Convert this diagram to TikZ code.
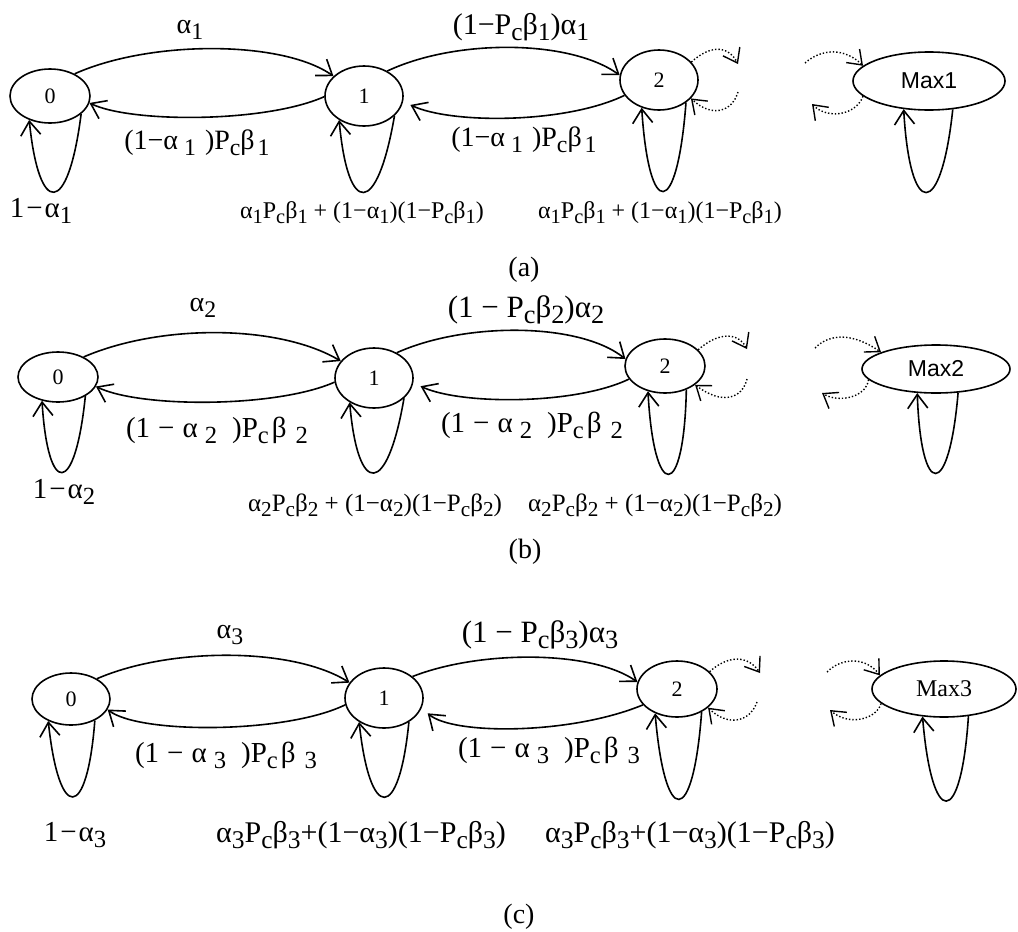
\documentclass[tikz,border=0pt]{standalone}
\usepackage{fontspec}
\setmainfont{Liberation Serif}
\newfontfamily\arialf{Liberation Sans}
\usepackage{graphicx}
\usetikzlibrary{shapes.geometric,arrows.meta}
\newcommand\ls[1]{\raisebox{-0.45ex}{\scalebox{0.85}{#1}}}
\newcommand\fs[1]{\fontsize{#1}{#1}\selectfont}
\newcommand\hs[1]{\hspace{#1pt}}
\tikzset{
 st/.style={draw, ellipse, line width=1.6pt, inner sep=0pt, font=\fs{22}},
 arr/.style={line width=1.6pt, -{Straight Barb[length=14pt,width=20pt,line width=1.6pt]}},
 dots/.style={dotted, line width=1.4pt, -{Straight Barb[length=13pt,width=19pt,line width=1.4pt]}},
 lab/.style={inner sep=0pt, font=\fs{25}},
 capt/.style={inner sep=0pt, font=\fs{28}},
}
\begin{document}
\begin{tikzpicture}[x=1pt,y=-1pt]
\useasboundingbox (0,0) rectangle (1018,932);
% ---------------- row (a)
\node[st,minimum width=80pt,minimum height=54pt] (a0) at (50,96) {0};
\node[st,minimum width=78pt,minimum height=60pt] (a1) at (364,96) {1};
\node[st,minimum width=78pt,minimum height=60pt] (a2) at (659,80) {2};
\node[st,minimum width=152pt,minimum height=58pt,font=\arialf\fs{23}] (am) at (929,81) {Max1};
\draw[arr] (a0.42) .. controls (150,40) and (282,40) .. (a1.147);
\draw[arr] (a1.181) .. controls (265,123) and (131,123) .. (a0.-10);
\draw[arr] (a1.47) .. controls (455,39) and (569,39) .. (a2.173);
\draw[arr,shorten >=8pt] (a2.204) .. controls (565,124) and (451,124) .. (a1.-8);
\draw[arr] (a0.-30) .. controls (68,217) and (39,217) .. (a0.229);
\draw[arr] (a1.-33) .. controls (377,217) and (348,217) .. (a1.224);
\draw[arr] (a2.-40) .. controls (677,220) and (649,220) .. (a2.238);
\draw[arr] (am.-50) .. controls (941,220) and (910,220) .. (am.228);
\coordinate (ao) at (738,64); \coordinate (ai) at (738,92);
\coordinate (ami) at (805,63); \coordinate (amo) at (812,104);
\draw[dots] (a2.29) .. controls (710,45) and (728,45) .. (ao);
\draw[dots] (ai) .. controls (732,112) and (712,118) .. (a2.-30);
\draw[dots] (ami) .. controls (822,48) and (845,48) .. (am.167);
\draw[dots] (am.193) .. controls (856,115) and (828,120) .. (amo);
\node[lab,font=\fs{28}] (la1) at (190,30) {α\ls{1}};
\node[lab,font=\fs{28}] (lb1) at (197,143) {(1−α\hs{6}\ls{1}\hs{9})P\ls{c}β\hs{3}\ls{1}};
\node[lab,font=\fs{30}] (lc1) at (521,27) {(1−P\ls{c}β\ls{1})α\ls{1}};
\node[lab,font=\fs{28}] (ld1) at (524,140) {(1−α\hs{6}\ls{1}\hs{9})P\ls{c}β\hs{3}\ls{1}};
\node[lab,font=\fs{29}] (le1) at (41,211) {1\hs{2}−\hs{2}α\ls{1}};
\node[lab,font=\fs{24}] (lf1) at (362,213) {α\ls{1}P\ls{c}β\ls{1} + (1−α\ls{1})(1−P\ls{c}β\ls{1})};
\node[lab,font=\fs{24}] (lg1) at (660,213) {α\ls{1}P\ls{c}β\ls{1} + (1−α\ls{1})(1−P\ls{c}β\ls{1})};
\node[capt] (cap1) at (524,270) {(a)};
% ---------------- row (b)
\node[st,minimum width=80pt,minimum height=50pt] (b0) at (58,377) {0};
\node[st,minimum width=78pt,minimum height=60pt] (b1) at (374,378) {1};
\node[st,minimum width=80pt,minimum height=54pt] (b2) at (665,366) {2};
\node[st,minimum width=148pt,minimum height=48pt,font=\arialf\fs{23}] (bm) at (936,369) {Max2};
\draw[arr] (b0.38) .. controls (160,324) and (278,324) .. (b1.153);
\draw[arr] (b1.186) .. controls (276,408) and (140,408) .. (b0.-14);
\draw[arr] (b1.48) .. controls (465,322) and (579,322) .. (b2.170);
\draw[arr,shorten >=8pt] (b2.200) .. controls (575,405) and (461,405) .. (b1.-7);
\draw[arr] (b0.-35) .. controls (75,497) and (48,497) .. (b0.236);
\draw[arr] (b1.-34) .. controls (387,497) and (358,497) .. (b1.225);
\draw[arr] (b2.-48) .. controls (684,502) and (654,502) .. (b2.236);
\draw[arr] (bm.-47) .. controls (949,500) and (921,500) .. (bm.232);
\coordinate (bo) at (747,349); \coordinate (bi) at (747,379);
\coordinate (bmi) at (815,348); \coordinate (bmo) at (822,393);
\draw[dots] (b2.26) .. controls (718,332) and (738,332) .. (bo);
\draw[dots] (bi) .. controls (742,399) and (722,405) .. (b2.-32);
\draw[dots] (bmi) .. controls (830,333) and (853,333) .. (bm.163);
\draw[dots] (bm.189) .. controls (866,398) and (838,403) .. (bmo);
\node[lab,font=\fs{28}] (la2) at (203,308) {α\ls{2}};
\node[lab,font=\fs{29}] (lb2) at (217,430) {(1\hs{8}−\hs{8}α\hs{7}\ls{2}\hs{15})P\ls{c}\hs{3}β\hs{9}\ls{2}};
\node[lab,font=\fs{31}] (lc2) at (526,310) {(1 − P\ls{c}β\ls{2})α\ls{2}};
\node[lab,font=\fs{29}] (ld2) at (532,425) {(1\hs{8}−\hs{8}α\hs{7}\ls{2}\hs{15})P\ls{c}\hs{3}β\hs{9}\ls{2}};
\node[lab,font=\fs{29}] (le2) at (64,492) {1\hs{2}−\hs{2}α\ls{2}};
\node[lab] (lf2) at (375,505) {α\ls{2}P\ls{c}β\ls{2} + (1−α\ls{2})(1−P\ls{c}β\ls{2})};
\node[lab] (lg2) at (655,505) {α\ls{2}P\ls{c}β\ls{2} + (1−α\ls{2})(1−P\ls{c}β\ls{2})};
\node[capt] (cap2) at (525,552) {(b)};
% ---------------- row (c)
\node[st,minimum width=78pt,minimum height=52pt] (c0) at (71,699) {0};
\node[st,minimum width=78pt,minimum height=60pt] (c1) at (384,698) {1};
\node[st,minimum width=80pt,minimum height=56pt] (c2) at (677,689) {2};
\node[st,minimum width=144pt,minimum height=56pt,font=\fs{24}] (cm) at (944,689) {Max3};
\draw[arr] (c0.38) .. controls (170,647) and (293,647) .. (c1.156);
\draw[arr] (c1.190) .. controls (285,734) and (139,734) .. (c0.-16);
\draw[arr] (c1.37) .. controls (480,650) and (592,650) .. (c2.170);
\draw[arr,shorten >=8pt] (c2.205) .. controls (570,735) and (453,735) .. (c1.-15);
\draw[arr] (c0.-42) .. controls (87,822) and (59,822) .. (c0.224);
\draw[arr] (c1.-44) .. controls (399,822) and (370,822) .. (c1.224);
\draw[arr] (c2.-43) .. controls (693,828) and (665,828) .. (c2.228);
\draw[arr] (cm.-48) .. controls (961,829) and (932,829) .. (cm.232);
\coordinate (co) at (760,673); \coordinate (ci) at (757,702);
\coordinate (cmi) at (827,672); \coordinate (cmo) at (830,710);
\draw[dots] (c2.28) .. controls (728,655) and (748,655) .. (co);
\draw[dots] (ci) .. controls (750,722) and (728,727) .. (c2.-31);
\draw[dots] (cmi) .. controls (842,657) and (866,657) .. (cm.168);
\draw[dots] (cm.193) .. controls (876,720) and (848,726) .. (cmo);
\node[lab,font=\fs{28}] (la3) at (230,635) {α\ls{3}};
\node[lab,font=\fs{29}] (lb3) at (226,755) {(1\hs{8}−\hs{8}α\hs{7}\ls{3}\hs{15})P\ls{c}\hs{3}β\hs{9}\ls{3}};
\node[lab,font=\fs{31}] (lc3) at (540,635) {(1 − P\ls{c}β\ls{3})α\ls{3}};
\node[lab,font=\fs{29}] (ld3) at (549,750) {(1\hs{8}−\hs{8}α\hs{7}\ls{3}\hs{15})P\ls{c}\hs{3}β\hs{9}\ls{3}};
\node[lab,font=\fs{29}] (le3) at (75,835) {1\hs{2}−\hs{2}α\ls{3}};
\node[lab,font=\fs{30}] (lf3) at (361,835) {α\ls{3}P\ls{c}β\ls{3}+(1−α\ls{3})(1−P\ls{c}β\ls{3})};
\node[lab,font=\fs{30}] (lg3) at (690,835) {α\ls{3}P\ls{c}β\ls{3}+(1−α\ls{3})(1−P\ls{c}β\ls{3})};
\node[capt] (cap3) at (519,917) {(c)};
\end{tikzpicture}
\end{document}
